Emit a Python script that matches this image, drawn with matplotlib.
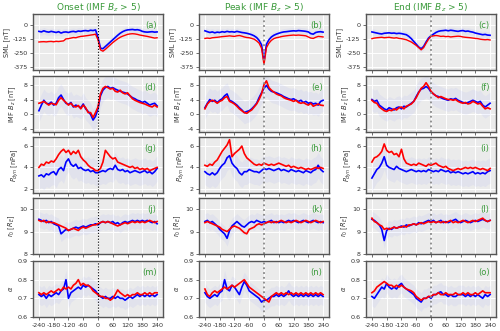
import numpy as np
import matplotlib
matplotlib.use("Agg")
import matplotlib.pyplot as plt

plt.rcParams["axes.unicode_minus"] = False

# minutes relative to the event
t = np.arange(-240, 241, 10)

titles = ["Onset (IMF $B_z$ > 5)", "Peak (IMF $B_z$ > 5)", "End (IMF $B_z$ > 5)"]
ylabels = ["SML [nT]", "IMF $B_z$ [nT]", "$P_{dyn}$ [nPa]", "$r_0$ [$R_E$]", r"$\alpha$"]
panel_tags = "abcdefghijklmno"
ylims = [(-400, 100), (-4.7, 10.3), (1.6, 6.85), (8, 10.5), (0.6, 0.9)]
yticks = [[0, -125, -250, -375], [-4, 0, 4, 8], [2, 4, 6], [8, 9, 10], [0.6, 0.7, 0.8, 0.9]]
spread = [30, 3.0, 1.2, 0.35, 0.05]

# SML
sml_onset_b = [-55, -60, -50, -58, -62, -55, -60, -65, -58, -70, -62, -60, -65, -58, -55, -60, -52, -55, -50, -48, -52, -45, -48, -42, -110,
               -205, -210, -190, -170, -150, -130, -110, -90, -72, -58, -48, -42, -40, -38, -42, -40, -45, -55, -60, -62, -60, -58, -62, -60]
sml_onset_r = [-150, -148, -147, -149, -146, -145, -148, -144, -146, -143, -140, -122, -120, -115, -110, -112, -105, -100, -98, -95, -92, -88, -85, -80, -130,
               -220, -232, -215, -195, -175, -155, -138, -122, -108, -98, -90, -82, -78, -76, -78, -82, -88, -92, -96, -100, -105, -110, -115, -112]
sml_peak_b = [-50, -58, -65, -60, -68, -62, -65, -58, -62, -55, -60, -58, -62, -55, -60, -65, -68, -72, -78, -85, -95, -110, -135, -175, -320,
              -170, -130, -105, -90, -80, -72, -65, -60, -58, -55, -52, -50, -52, -48, -50, -52, -55, -60, -75, -80, -65, -60, -58, -62]
sml_peak_r = [-118, -115, -118, -112, -110, -108, -105, -102, -100, -98, -95, -98, -100, -95, -92, -98, -105, -110, -112, -118, -125, -140, -160, -205, -350,
              -200, -160, -135, -120, -112, -108, -102, -98, -95, -92, -90, -88, -90, -88, -90, -92, -95, -105, -115, -118, -108, -100, -102, -105]
sml_end_b = [-60, -65, -70, -75, -78, -72, -70, -68, -72, -70, -75, -72, -75, -80, -85, -100, -120, -145, -170, -195, -210, -190, -150, -115, -95,
             -80, -65, -55, -50, -48, -45, -50, -45, -48, -52, -55, -50, -48, -55, -52, -58, -62, -70, -75, -80, -85, -82, -88, -90]
sml_end_r = [-120, -115, -112, -110, -108, -112, -110, -108, -112, -115, -112, -118, -120, -125, -130, -140, -150, -165, -180, -200, -220, -200, -160, -125, -100,
             -95, -92, -95, -100, -98, -102, -100, -105, -102, -100, -98, -100, -105, -108, -110, -112, -115, -118, -120, -125, -128, -130, -128, -132]

# IMF Bz
bz_onset_b = [1.0, 2.5, 3.8, 3.0, 2.8, 3.3, 2.5, 3.0, 4.5, 5.2, 4.0, 3.0, 2.7, 3.2, 2.0, 2.5, 2.2, 1.8, 2.8, 1.5, 0.8, 0.0, -1.5, -0.5, 1.5,
              5.0, 6.5, 7.2, 7.5, 7.0, 7.2, 6.8, 6.5, 6.2, 6.0, 5.8, 5.5, 5.0, 4.5, 4.2, 3.8, 3.6, 3.2, 3.5, 3.0, 2.5, 2.8, 3.0, 2.3]
bz_onset_r = [3.0, 3.2, 3.5, 3.0, 2.5, 3.0, 2.8, 2.6, 3.8, 4.5, 3.8, 3.2, 2.5, 3.0, 2.2, 2.0, 2.4, 1.5, 2.5, 1.8, 0.5, 0.5, -0.8, 0.5, 2.0,
              5.5, 7.0, 7.5, 7.2, 6.8, 7.0, 6.2, 6.0, 6.5, 5.8, 5.5, 5.8, 5.0, 4.2, 3.8, 3.5, 3.2, 3.0, 2.8, 2.5, 2.2, 2.0, 2.5, 2.0]
bz_peak_b = [1.8, 3.0, 4.0, 3.5, 3.8, 3.2, 3.8, 4.2, 5.0, 5.5, 3.8, 3.5, 3.0, 2.5, 1.8, 1.2, 0.5, 0.8, 1.0, 1.5, 2.2, 3.0, 4.5, 5.8, 7.0,
             7.8, 6.8, 6.2, 6.0, 5.8, 5.5, 5.2, 4.8, 4.5, 4.2, 4.0, 4.2, 3.8, 3.5, 3.8, 3.2, 3.5, 3.0, 3.2, 2.8, 3.0, 2.5, 3.5, 3.8]
bz_peak_r = [1.5, 2.8, 3.5, 3.8, 3.5, 3.0, 3.5, 3.8, 4.5, 4.8, 3.5, 3.2, 2.8, 2.2, 1.5, 1.0, 0.5, 0.3, 0.8, 1.2, 2.0, 2.8, 4.0, 5.5, 8.0,
             9.0, 7.2, 6.5, 6.0, 5.5, 5.2, 5.0, 4.5, 4.2, 4.0, 3.8, 3.5, 3.8, 3.2, 3.0, 3.2, 2.8, 2.5, 3.0, 2.2, 2.5, 2.8, 2.5, 2.4]
bz_end_b = [4.0, 3.5, 3.8, 2.5, 2.0, 1.5, 1.2, 1.8, 1.5, 1.2, 1.8, 2.0, 1.5, 2.2, 2.0, 2.5, 3.0, 3.5, 4.8, 6.0, 6.8, 7.0, 7.5, 7.0, 6.0,
            5.5, 5.0, 4.8, 4.5, 4.2, 4.0, 3.8, 4.2, 4.0, 4.3, 3.8, 3.5, 3.2, 3.0, 3.2, 3.5, 3.8, 3.5, 3.2, 3.5, 2.5, 2.0, 2.5, 3.0]
bz_end_r = [3.8, 3.2, 3.0, 2.0, 1.5, 1.0, 0.8, 1.2, 1.0, 1.5, 1.2, 1.8, 2.0, 1.5, 2.2, 2.5, 2.8, 3.5, 4.5, 5.8, 7.0, 7.5, 8.5, 7.5, 6.2,
            5.5, 5.0, 4.5, 4.8, 4.5, 4.2, 4.0, 4.0, 3.8, 4.0, 3.5, 3.2, 3.0, 3.2, 2.8, 3.0, 3.5, 3.2, 2.8, 3.0, 2.2, 1.5, 1.8, 1.5]

# Pdyn
pd_onset_b = [3.2, 3.3, 3.1, 3.4, 3.3, 3.5, 3.6, 3.3, 3.8, 4.0, 3.7, 4.5, 4.8, 4.3, 4.1, 4.3, 3.9, 4.0, 3.8, 3.7, 3.8, 3.6, 3.7, 3.5, 3.5,
              3.6, 3.7, 3.6, 3.8, 3.9, 3.8, 4.2, 3.8, 3.7, 3.8, 3.6, 3.7, 3.5, 3.6, 3.7, 3.6, 3.5, 3.6, 3.7, 3.5, 3.6, 3.4, 3.6, 3.9]
pd_onset_r = [4.0, 4.3, 4.2, 4.5, 4.4, 4.6, 4.5, 4.8, 5.2, 5.5, 5.7, 5.4, 5.6, 5.2, 5.5, 5.3, 5.6, 5.0, 4.7, 4.5, 4.2, 4.0, 3.9, 3.7, 3.7,
              3.9, 4.5, 5.6, 5.3, 5.0, 4.8, 4.9, 4.5, 4.4, 4.3, 4.2, 4.1, 4.0, 4.1, 3.9, 4.0, 3.8, 3.9, 3.8, 3.9, 3.7, 3.8, 3.9, 4.0]
pd_peak_b = [3.6, 3.4, 3.3, 3.5, 3.3, 3.5, 3.9, 4.2, 4.4, 4.9, 5.1, 4.4, 4.1, 3.9, 3.5, 3.3, 3.6, 3.6, 3.8, 3.7, 3.6, 3.6, 3.5, 3.7, 3.9,
             3.8, 3.9, 3.8, 3.7, 3.8, 3.9, 3.7, 3.8, 3.7, 3.6, 3.8, 3.7, 3.6, 3.7, 3.6, 3.5, 3.7, 3.6, 3.5, 3.7, 3.8, 4.2, 3.8, 3.6]
pd_peak_r = [4.2, 4.1, 4.3, 4.2, 4.5, 4.7, 5.1, 5.5, 5.8, 6.1, 6.6, 5.0, 5.3, 5.5, 5.7, 6.0, 5.3, 4.9, 4.7, 4.5, 4.3, 4.2, 4.3, 4.2, 4.4,
             4.3, 4.2, 4.3, 4.2, 4.3, 4.4, 4.3, 4.2, 4.1, 4.2, 4.0, 4.1, 4.0, 3.9, 4.0, 3.9, 3.8, 3.9, 3.8, 3.9, 4.0, 3.9, 4.0, 3.9]
pd_end_b = [3.0, 3.4, 3.8, 4.0, 4.4, 5.0, 4.2, 4.0, 3.9, 3.8, 4.1, 3.9, 3.8, 3.7, 3.6, 3.7, 3.8, 3.7, 3.6, 3.7, 3.6, 3.7, 3.6, 3.8, 3.7,
            3.6, 3.7, 3.6, 3.8, 3.7, 3.6, 3.7, 3.5, 3.6, 3.5, 3.6, 3.5, 3.4, 3.5, 3.4, 3.5, 3.6, 3.4, 3.5, 3.4, 3.5, 3.4, 3.6, 3.7]
pd_end_r = [4.5, 4.9, 5.0, 5.2, 5.5, 6.2, 5.6, 5.4, 5.5, 5.2, 5.3, 5.0, 5.7, 4.8, 4.4, 4.3, 4.2, 4.3, 4.2, 4.4, 4.3, 4.2, 4.1, 4.3, 4.2,
            4.3, 4.4, 4.2, 4.1, 4.0, 4.1, 3.9, 3.8, 3.7, 3.8, 3.9, 3.8, 3.9, 4.0, 3.9, 4.0, 3.9, 4.0, 3.9, 3.8, 3.9, 3.8, 3.7, 3.9]

# r0
r0_onset_b = [9.55, 9.5, 9.45, 9.5, 9.4, 9.45, 9.35, 9.3, 9.25, 8.9, 9.0, 9.1, 9.05, 9.1, 9.15, 9.2, 9.15, 9.2, 9.25, 9.2, 9.25, 9.3, 9.3, 9.35, 9.3,
              9.4, 9.45, 9.4, 9.45, 9.4, 9.45, 9.35, 9.4, 9.3, 9.4, 9.45, 9.4, 9.45, 9.5, 9.45, 9.5, 9.45, 9.5, 9.45, 9.5, 9.45, 9.4, 9.45, 9.35]
r0_onset_r = [9.5, 9.45, 9.5, 9.4, 9.45, 9.4, 9.4, 9.35, 9.3, 9.25, 9.2, 9.15, 9.05, 9.1, 9.15, 9.1, 9.05, 9.15, 9.2, 9.15, 9.2, 9.25, 9.3, 9.3, 9.35,
              9.4, 9.45, 9.4, 9.45, 9.4, 9.35, 9.3, 9.25, 9.3, 9.35, 9.4, 9.35, 9.4, 9.45, 9.4, 9.45, 9.4, 9.45, 9.4, 9.45, 9.5, 9.45, 9.4, 9.45]
r0_peak_b = [9.45, 9.5, 9.4, 9.45, 9.35, 9.25, 9.1, 9.0, 8.9, 8.7, 9.05, 9.25, 9.35, 9.45, 9.35, 9.25, 9.2, 9.3, 9.4, 9.45, 9.4, 9.5, 9.45, 9.4, 9.45,
             9.4, 9.45, 9.5, 9.4, 9.45, 9.4, 9.45, 9.4, 9.45, 9.5, 9.45, 9.5, 9.45, 9.4, 9.45, 9.5, 9.45, 9.4, 9.45, 9.5, 9.45, 9.4, 9.45, 9.4]
r0_peak_r = [9.4, 9.45, 9.4, 9.35, 9.3, 9.25, 9.2, 9.1, 9.05, 9.0, 9.1, 9.2, 9.25, 9.2, 9.15, 9.05, 8.95, 8.9, 9.1, 9.15, 9.2, 9.3, 9.35, 9.3, 9.35,
             9.4, 9.45, 9.4, 9.45, 9.4, 9.45, 9.5, 9.45, 9.4, 9.45, 9.4, 9.45, 9.5, 9.45, 9.4, 9.45, 9.5, 9.45, 9.4, 9.45, 9.5, 9.45, 9.4, 9.45]
r0_end_b = [9.55, 9.5, 9.4, 9.3, 9.1, 8.6, 9.05, 9.15, 9.1, 9.2, 9.15, 9.2, 9.25, 9.2, 9.3, 9.25, 9.3, 9.35, 9.3, 9.4, 9.35, 9.4, 9.45, 9.5, 9.45,
            9.5, 9.4, 9.45, 9.5, 9.4, 9.45, 9.4, 9.45, 9.5, 9.55, 9.45, 9.4, 9.45, 9.5, 9.45, 9.4, 9.45, 9.5, 9.45, 9.5, 9.55, 9.5, 9.45, 9.5]
r0_end_r = [9.6, 9.45, 9.4, 9.3, 9.25, 9.1, 9.15, 9.1, 9.15, 9.2, 9.15, 9.2, 9.2, 9.25, 9.2, 9.3, 9.3, 9.35, 9.3, 9.35, 9.4, 9.35, 9.4, 9.45, 9.4,
            9.45, 9.4, 9.45, 9.4, 9.45, 9.4, 9.45, 9.5, 9.4, 9.45, 9.4, 9.45, 9.5, 9.45, 9.4, 9.45, 9.5, 9.45, 9.5, 9.55, 9.6, 9.5, 9.45, 9.5]

# alpha
al_onset_b = [0.72, 0.71, 0.72, 0.70, 0.72, 0.71, 0.72, 0.73, 0.72, 0.74, 0.75, 0.80, 0.70, 0.73, 0.74, 0.75, 0.76, 0.75, 0.77, 0.76, 0.77, 0.76, 0.75, 0.74, 0.72,
              0.71, 0.70, 0.71, 0.70, 0.70, 0.71, 0.70, 0.71, 0.70, 0.70, 0.69, 0.70, 0.71, 0.70, 0.71, 0.72, 0.71, 0.72, 0.71, 0.72, 0.71, 0.72, 0.71, 0.72]
al_onset_r = [0.73, 0.72, 0.73, 0.72, 0.73, 0.74, 0.73, 0.74, 0.75, 0.74, 0.76, 0.75, 0.76, 0.75, 0.77, 0.78, 0.80, 0.77, 0.78, 0.77, 0.77, 0.76, 0.74, 0.73, 0.72,
              0.71, 0.71, 0.70, 0.70, 0.69, 0.70, 0.72, 0.745, 0.73, 0.72, 0.71, 0.72, 0.71, 0.72, 0.72, 0.73, 0.72, 0.72, 0.73, 0.72, 0.73, 0.72, 0.73, 0.73]
al_peak_b = [0.73, 0.71, 0.70, 0.71, 0.72, 0.71, 0.73, 0.74, 0.80, 0.75, 0.74, 0.77, 0.76, 0.74, 0.72, 0.76, 0.79, 0.77, 0.74, 0.73, 0.72, 0.71, 0.70, 0.68, 0.69,
             0.69, 0.70, 0.71, 0.71, 0.72, 0.71, 0.72, 0.71, 0.72, 0.74, 0.72, 0.71, 0.72, 0.71, 0.72, 0.71, 0.72, 0.71, 0.72, 0.71, 0.72, 0.71, 0.72, 0.71]
al_peak_r = [0.75, 0.72, 0.71, 0.73, 0.74, 0.73, 0.74, 0.75, 0.76, 0.75, 0.76, 0.77, 0.76, 0.77, 0.78, 0.79, 0.80, 0.78, 0.76, 0.75, 0.74, 0.73, 0.72, 0.71, 0.70,
             0.69, 0.68, 0.71, 0.72, 0.73, 0.72, 0.73, 0.72, 0.73, 0.72, 0.73, 0.72, 0.73, 0.72, 0.73, 0.72, 0.73, 0.72, 0.73, 0.72, 0.73, 0.72, 0.73, 0.72]
al_end_b = [0.71, 0.70, 0.72, 0.74, 0.76, 0.75, 0.78, 0.76, 0.75, 0.76, 0.75, 0.77, 0.78, 0.76, 0.75, 0.74, 0.73, 0.72, 0.70, 0.69, 0.68, 0.70, 0.70, 0.71, 0.70,
            0.72, 0.72, 0.73, 0.735, 0.72, 0.72, 0.71, 0.72, 0.71, 0.71, 0.72, 0.72, 0.72, 0.71, 0.72, 0.71, 0.72, 0.71, 0.72, 0.71, 0.70, 0.72, 0.71, 0.72]
al_end_r = [0.73, 0.74, 0.76, 0.77, 0.78, 0.79, 0.78, 0.77, 0.77, 0.76, 0.77, 0.76, 0.77, 0.76, 0.75, 0.745, 0.74, 0.73, 0.71, 0.70, 0.69, 0.70, 0.70, 0.71, 0.71,
            0.72, 0.72, 0.73, 0.72, 0.72, 0.73, 0.72, 0.72, 0.72, 0.73, 0.72, 0.72, 0.73, 0.72, 0.73, 0.72, 0.72, 0.73, 0.72, 0.73, 0.74, 0.73, 0.73, 0.73]

blue_rows = [[sml_onset_b, sml_peak_b, sml_end_b],
             [bz_onset_b, bz_peak_b, bz_end_b],
             [pd_onset_b, pd_peak_b, pd_end_b],
             [r0_onset_b, r0_peak_b, r0_end_b],
             [al_onset_b, al_peak_b, al_end_b]]
red_rows = [[sml_onset_r, sml_peak_r, sml_end_r],
            [bz_onset_r, bz_peak_r, bz_end_r],
            [pd_onset_r, pd_peak_r, pd_end_r],
            [r0_onset_r, r0_peak_r, r0_end_r],
            [al_onset_r, al_peak_r, al_end_r]]

W, H = 500, 331
fig = plt.figure(figsize=(W / 100, H / 100), dpi=100)
col_left = [33, 199, 366]
col_w = 130
row_top = [14, 76, 137, 198, 261]
row_h = 56
green = "#3a9a3a"

for r in range(5):
    for c in range(3):
        ax = fig.add_axes([col_left[c] / W, 1 - (row_top[r] + row_h) / H, col_w / W, row_h / H])
        ax.set_facecolor("#ebebeb")
        ax.grid(True, color="white", lw=0.7)
        ax.set_axisbelow(True)
        yb = np.array(blue_rows[r][c])
        yr = np.array(red_rows[r][c])
        ax.fill_between(t, yb - spread[r], yb + spread[r], color="#6f7fff", alpha=0.08, lw=0)
        ax.plot(t, yb, color="blue", lw=1.2)
        ax.plot(t, yr, color="red", lw=1.0 if r == 0 else 1.2)
        if c == 0:
            ax.axvline(0, color="black", ls=":", lw=0.8)
        else:
            ax.axvline(0, color="#888888", ls=":", lw=1.3)
        ax.set_ylim(*ylims[r])
        ax.set_yticks(yticks[r])
        ax.set_xticks(np.arange(-240, 241, 60))
        if r < 4:
            ax.set_xticklabels([])
        ax.tick_params(labelsize=4.6, length=2.5, width=0.6, color="#555555", pad=1.5, labelcolor="#333333")
        for s in ax.spines.values():
            s.set_color("#555555")
            s.set_linewidth(1.0)
        ax.set_ylabel(ylabels[r], fontsize=4.8, labelpad=2, color="#333333")
        ax.text(0.95, 0.8, "(" + panel_tags[r * 3 + c] + ")", transform=ax.transAxes,
                ha="right", va="center", fontsize=6, color=green)
        if r == 0:
            ax.set_title(titles[c], fontsize=6.5, color=green, pad=2)

fig.savefig("out.png", dpi=100)
